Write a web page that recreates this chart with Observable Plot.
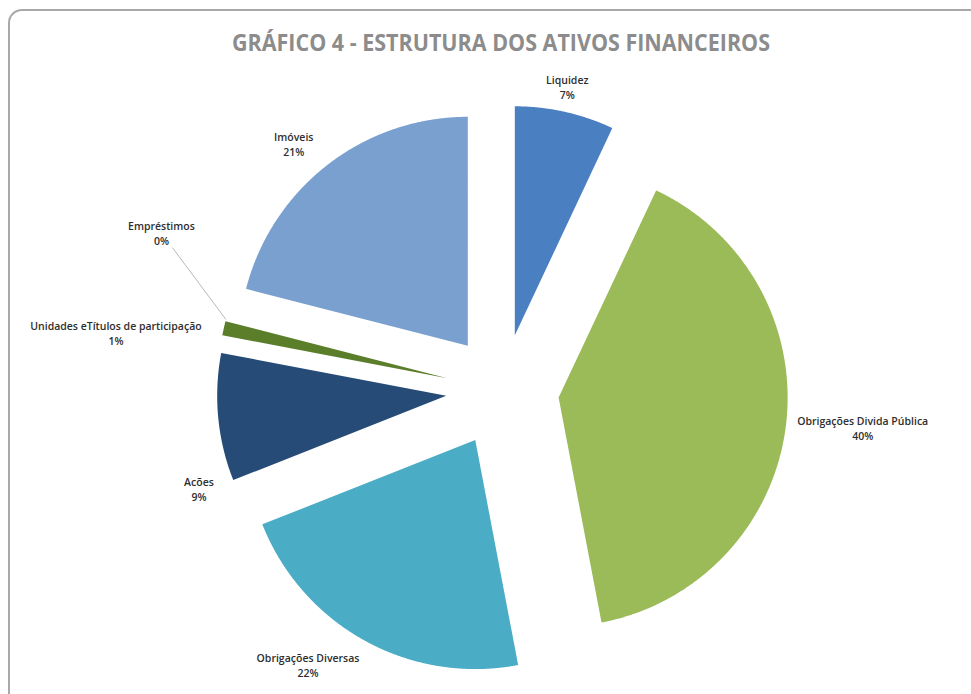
<!DOCTYPE html>
<html><head><meta charset="utf-8">
<script src="https://cdn.jsdelivr.net/npm/d3@7"></script>
<script src="https://cdn.jsdelivr.net/npm/@observablehq/plot@0.6"></script>
<style>
html,body{margin:0;padding:0;background:#fff;width:971px;height:694px;overflow:hidden;}
#frame{position:absolute;left:8px;top:9px;width:1000px;height:720px;border-top:2px solid #a9a9a9;border-left:2px solid #a9a9a9;border-top-left-radius:14px;box-sizing:border-box;}
#title{position:absolute;left:0;top:27px;width:1002px;text-align:center;font-family:"Open Sans",sans-serif;font-weight:700;font-size:23px;line-height:30px;color:#8c8c8c;white-space:nowrap;}
#title span{display:inline-block;transform-origin:50% 50%;}
#chart{position:absolute;left:0;top:60px;}
</style></head>
<body>
<div id="frame"></div>
<div id="title"><span>GRÁFICO 4 - ESTRUTURA DOS ATIVOS FINANCEIROS</span></div>
<div id="chart"></div>
<script>
// ---- data ----
const categories = ["Liquidez", "Obrigações Divida Pública", "Obrigações Diversas", "Acões", "Unidades eTítulos de participação", "Empréstimos", "Imóveis"];
const shares = [7, 40, 22, 9, 1, 0, 21];
const pctLabels = ["7%", "40%", "22%", "9%", "1%", "0%", "21%"];

// ---- style / layout ----
const palette = ["#4a7fc2", "#9bbb59", "#4bacc6", "#274b77", "#5b7e2b", "#8fb0d8", "#7aa0cf"];
const W = 971, H = 634;
const K = 229;           // pixels per radius unit
const CX = 502, CY = 330; // pie centre inside the svg
const R = 1, EXPLODE = 0.247, GAP = 0.05;
const FS = 10.5;
const nudges = {"Acões": [7, 70], "Empréstimos": [-20, -84], "Unidades eTítulos de participação": [-11, 7], "Imóveis": [-7, 2]};

// fit title width
const tspan = document.querySelector("#title span");
const tw = tspan.getBoundingClientRect().width;
tspan.style.transform = `scaleX(${538 / tw})`;

const rows = categories.map((name, i) => ({name, share: shares[i], pct: pctLabels[i]}));
const arcs = d3.pie().sort(null).value(d => d.share)(rows);

const poly = [];
for (const a of arcs) {
  const name = a.data.name;
  if (a.endAngle - a.startAngle <= 0) continue;
  const mid = (a.startAngle + a.endAngle) / 2;
  const ox = EXPLODE * Math.sin(mid), oy = EXPLODE * Math.cos(mid);
  poly.push({name, x: ox, y: oy});
  const n = Math.max(2, Math.ceil((a.endAngle - a.startAngle) / 0.004));
  for (let j = 0; j <= n; j++) {
    const t = a.startAngle + (a.endAngle - a.startAngle) * j / n;
    poly.push({name, x: ox + R * Math.sin(t), y: oy + R * Math.cos(t)});
  }
  poly.push({name, x: ox, y: oy});
}

const ctx = document.createElement("canvas").getContext("2d");
ctx.font = `600 ${FS}px "Open Sans"`;
const labels = [];
const leaders = [];
for (const a of arcs) {
  const d = a.data;
  const mid = (a.startAngle + a.endAngle) / 2;
  const sx = Math.sin(mid), cy = Math.cos(mid);
  const rr = R + EXPLODE + GAP;
  const px = rr * sx, py = rr * cy;
  const w = Math.max(ctx.measureText(d.name).width, ctx.measureText(d.pct).width);
  const h = 28;
  const hx = sx > 0.3 ? 1 : sx < -0.3 ? -1 : 0;
  const vy = cy > 0.3 ? 1 : cy < -0.3 ? -1 : 0;
  const [nx, ny] = nudges[d.name] || [0, 0];
  const lx = px + (hx * w / 2 + nx) / K;
  const ly = py + (vy * h / 2 - ny) / K;
  labels.push({name: d.name, pct: d.pct, x: lx, y: ly});
  if (d.share === 0) {
    const ex = (R + EXPLODE) * sx, ey = (R + EXPLODE) * cy;
    leaders.push({x1: lx + 11 / K, y1: ly - 15 / K, x2: ex, y2: ey});
  }
}

const chart = Plot.plot({
  width: W, height: H,
  margin: 0,
  style: {fontFamily: '"Open Sans", sans-serif', background: "transparent", overflow: "visible"},
  x: {domain: [-CX / K, (W - CX) / K], axis: null},
  y: {domain: [-(H - CY) / K, CY / K], axis: null},
  color: {domain: categories, range: palette},
  marks: [
    Plot.line(poly, {x: "x", y: "y", z: "name", fill: "name", stroke: "none", curve: "linear"}),
    Plot.link(leaders, {x1: "x1", y1: "y1", x2: "x2", y2: "y2", stroke: "#b8b8b8", strokeWidth: 1}),
    Plot.text(labels, {x: "x", y: "y", text: d => d.name + "\n" + d.pct, fontSize: FS, fontWeight: 600, fill: "#2e2e2e", lineHeight: 1.43, textAnchor: "middle"})
  ]
});
document.getElementById("chart").appendChild(chart);
</script>
</body></html>
